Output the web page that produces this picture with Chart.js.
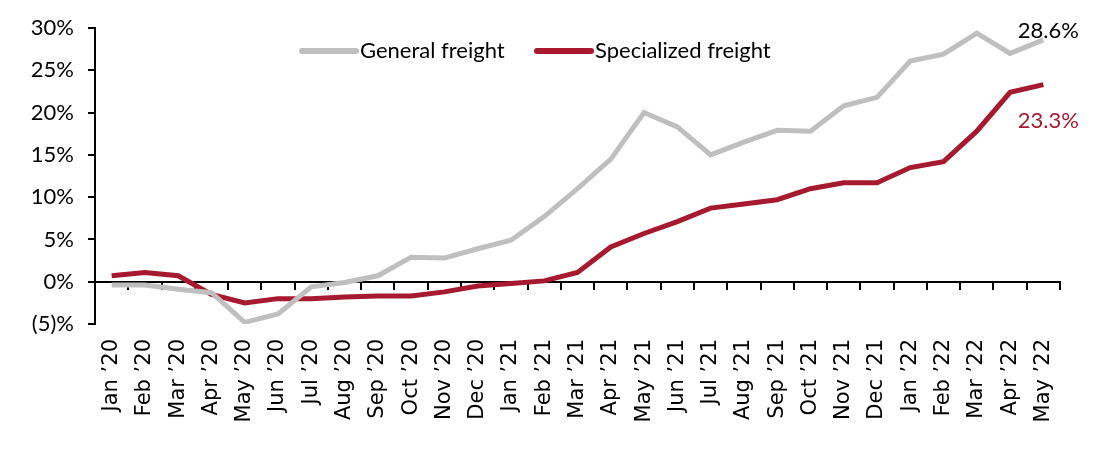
<!DOCTYPE html>
<html>
<head>
<meta charset="utf-8">
<script src="https://cdn.jsdelivr.net/npm/chart.js@4"></script>
<style>
  html, body { margin: 0; padding: 0; background: #fff; }
  #wrap { position: relative; width: 1099px; height: 452px; }
</style>
</head>
<body>
<div id="wrap"><canvas id="myChart"></canvas></div>
<script>
// categories and series (% change)
const months = [
  "Jan \u201920", "Feb \u201920", "Mar \u201920", "Apr \u201920", "May \u201920", "Jun \u201920",
  "Jul \u201920", "Aug \u201920", "Sep \u201920", "Oct \u201920", "Nov \u201920", "Dec \u201920",
  "Jan \u201921", "Feb \u201921", "Mar \u201921", "Apr \u201921", "May \u201921", "Jun \u201921",
  "Jul \u201921", "Aug \u201921", "Sep \u201921", "Oct \u201921", "Nov \u201921", "Dec \u201921",
  "Jan \u201922", "Feb \u201922", "Mar \u201922", "Apr \u201922", "May \u201922"
];
const generalFreight = [
  -0.4, -0.4, -0.9, -1.3, -4.8, -3.8, -0.6, -0.1, 0.7, 2.9, 2.8, 3.9,
  4.9, 7.7, 11.0, 14.5, 20.0, 18.3, 15.0, 16.5, 17.9, 17.8, 20.8, 21.8,
  26.1, 26.9, 29.4, 27.0, 28.6
];
const specializedFreight = [
  0.7, 1.1, 0.7, -1.5, -2.5, -2.0, -2.0, -1.8, -1.7, -1.7, -1.2, -0.5,
  -0.2, 0.1, 1.1, 4.1, 5.7, 7.1, 8.7, 9.2, 9.7, 11.0, 11.7, 11.7,
  13.5, 14.2, 17.8, 22.4, 23.3
];
const seriesNames = ["General freight", "Specialized freight"];
const seriesColors = ["#BFBFBF", "#A6192E"];
const endLabels = ["28.6%", "23.3%"];
const yMin = -5, yMax = 30, yStep = 5;

const font = "Lato, 'Liberation Sans', sans-serif";
const axisFont = "'DejaVu Sans', sans-serif";

function pctLabel(v) {
  return v < 0 ? "(" + (-v) + ")%" : v + "%";
}

// legend drawn inside the plot area, near the top
const insideLegend = {
  id: "insideLegend",
  afterDraw(chart) {
    const ctx = chart.ctx;
    const area = chart.chartArea;
    const y = area.top + 23;
    const starts = [area.left + 207, area.left + 442];
    ctx.save();
    ctx.font = "22px " + font;
    ctx.textBaseline = "middle";
    ctx.textAlign = "left";
    chart.data.datasets.forEach(function (ds, i) {
      const x = starts[i];
      ctx.strokeStyle = ds.borderColor;
      ctx.lineWidth = 6;
      ctx.lineCap = "round";
      ctx.beginPath();
      ctx.moveTo(x, y);
      ctx.lineTo(x + 54, y);
      ctx.stroke();
      ctx.fillStyle = "#000";
      ctx.fillText(ds.label, x + 58, y);
    });
    ctx.restore();
  }
};

// value labels at the last point of each line
const endValueLabels = {
  id: "endValueLabels",
  afterDatasetsDraw(chart) {
    const ctx = chart.ctx;
    ctx.save();
    ctx.font = "22px " + font;
    ctx.textAlign = "center";
    ctx.textBaseline = "middle";
    const offsets = [-9, 36];
    const colors = ["#000", seriesColors[1]];
    chart.data.datasets.forEach(function (ds, i) {
      const meta = chart.getDatasetMeta(i);
      const pt = meta.data[meta.data.length - 1];
      ctx.fillStyle = colors[i];
      ctx.fillText(endLabels[i], pt.x + 5, pt.y + offsets[i]);
    });
    ctx.restore();
  }
};

const ctx = document.getElementById("myChart").getContext("2d");
const myChart = new Chart(ctx, {
  type: "line",
  data: {
    labels: months,
    datasets: [
      {
        label: seriesNames[0],
        data: generalFreight,
        borderColor: seriesColors[0],
        backgroundColor: seriesColors[0],
        borderWidth: 5,
        pointRadius: 0,
        tension: 0,
      },
      {
        label: seriesNames[1],
        data: specializedFreight,
        borderColor: seriesColors[1],
        backgroundColor: seriesColors[1],
        borderWidth: 5,
        pointRadius: 0,
        tension: 0,
      },
    ],
  },
  options: {
    responsive: true,
    maintainAspectRatio: false,
    animation: false,
    layout: { padding: { top: 28, right: 39, left: 0, bottom: 0 } },
    plugins: {
      legend: { display: false },
      tooltip: { enabled: false },
    },
    scales: {
      x: {
        type: "category",
        position: "bottom",
        offset: true,
        grid: { display: false, drawTicks: false },
        border: { display: false },
        ticks: {
          color: "#000",
          font: { family: axisFont, size: 21 },
          maxRotation: 90,
          minRotation: 90,
          autoSkip: false,
          padding: 15,
        },
        afterFit(scale) { scale.height = 128; },
      },
      xZero: {
        type: "category",
        axis: "x",
        labels: months,
        position: { y: 0 },
        offset: true,
        grid: {
          display: true,
          offset: true,
          drawOnChartArea: false,
          drawTicks: true,
          tickLength: 7,
          color: "#000",
          lineWidth: 2,
        },
        border: { display: true, color: "#000", width: 2 },
        ticks: { display: false },
        afterFit(scale) { scale.height = 0; },
      },
      y: {
        min: yMin,
        max: yMax,
        grid: {
          drawOnChartArea: false,
          drawTicks: true,
          tickLength: 7,
          color: "#000",
          lineWidth: 2,
        },
        border: { display: true, color: "#000", width: 2 },
        ticks: {
          stepSize: yStep,
          color: "#000",
          font: { family: font, size: 22 },
          padding: 14,
          callback: function (v) { return pctLabel(v); },
        },
        afterFit(scale) { scale.width = 95; },
      },
    },
  },
  plugins: [insideLegend, endValueLabels],
});
</script>
</body>
</html>
